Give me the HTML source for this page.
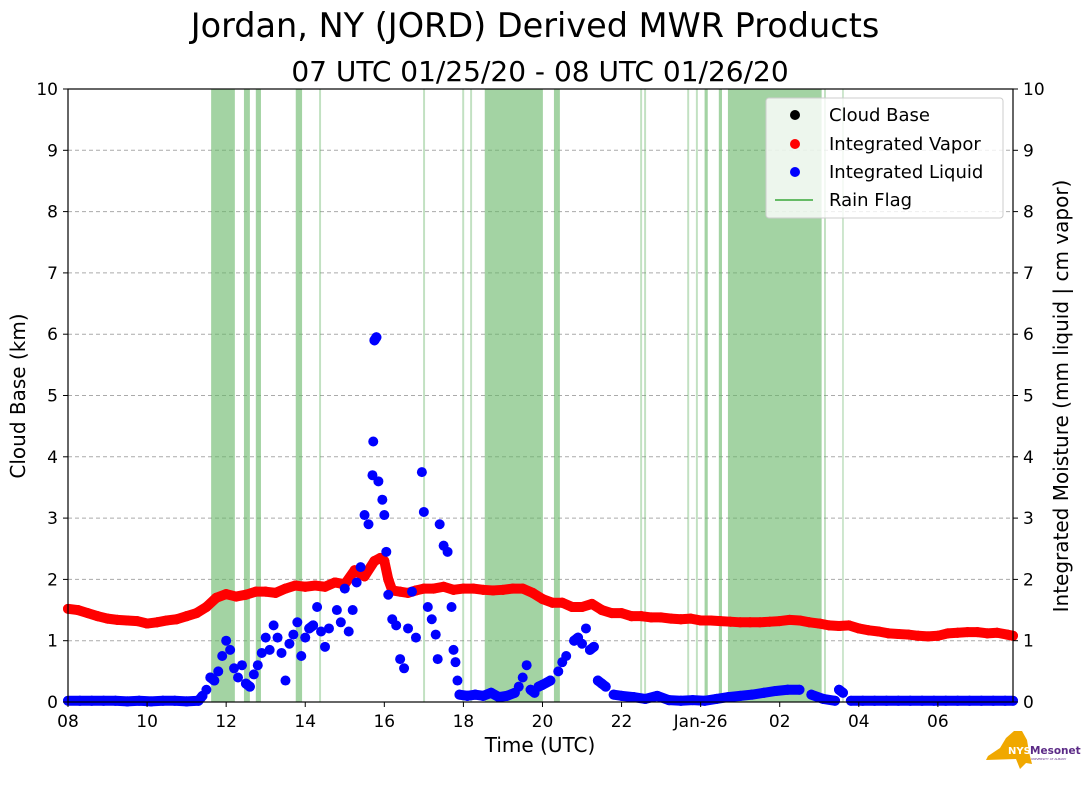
<!DOCTYPE html>
<html><head><meta charset="utf-8">
<style>
body{margin:0;background:#fff;width:1089px;height:804px;overflow:hidden;font-family:"DejaVu Sans","Liberation Sans",sans-serif;}
svg text{font-family:"DejaVu Sans","Liberation Sans",sans-serif;}
</style></head>
<body>
<svg id="chart" width="1089" height="804" xmlns="http://www.w3.org/2000/svg">
<text x="535" y="37" font-size="33.5" text-anchor="middle">Jordan, NY (JORD) Derived MWR Products</text>
<text x="540" y="81" font-size="28" text-anchor="middle">07 UTC 01/25/20 - 08 UTC 01/26/20</text>
<g id="grid"></g>
<g id="rain"></g>
<g id="series"></g>
<rect x="68" y="89" width="945" height="613" fill="none" stroke="#000" stroke-width="1.2"/>
<g id="axes"></g>
<text x="540" y="752" font-size="20" text-anchor="middle">Time (UTC)</text>
<text transform="translate(25,396) rotate(-90)" font-size="20" text-anchor="middle">Cloud Base (km)</text>
<text transform="translate(1068,396) rotate(-90)" font-size="20" text-anchor="middle">Integrated Moisture (mm liquid | cm vapor)</text>
<g>
<rect x="766" y="98" width="237" height="120" rx="3" fill="#fff" fill-opacity="0.8" stroke="#ccc"/>
<circle cx="795" cy="115" r="5" fill="#000"/><text x="829" y="121" font-size="18">Cloud Base</text>
<circle cx="795" cy="144" r="5" fill="#f00"/><text x="829" y="150" font-size="18">Integrated Vapor</text>
<circle cx="795" cy="172" r="5" fill="#00f"/><text x="829" y="178" font-size="18">Integrated Liquid</text>
<line x1="775" y1="200" x2="813" y2="200" stroke="#66bb66" stroke-width="2"/><text x="829" y="206" font-size="18">Rain Flag</text>
</g>
<g>
<path d="M988,756 L1000,748 L1006,738 L1014,731 L1022,731 L1027,740 L1029,752 L1032,764 L1026,763 L1020,769 L1016,759 L986,760 Z" fill="#f0a800"/>
<text x="1008" y="754" font-size="10" font-weight="bold" fill="#fff">NYS</text>
<text x="1030" y="754" font-size="10.5" font-weight="bold" fill="#5b2a86">Mesonet</text>
<text x="1031" y="760" font-size="3" fill="#5b2a86">UNIVERSITY AT ALBANY</text>
</g>
</svg>
<script>
const xTicks=[0,2,4,6,8,10,12,14,16,18,20,22];
const xTickLabels=["08","10","12","14","16","18","20","22","Jan-26","02","04","06"];
const yTicks=[0,1,2,3,4,5,6,7,8,9,10];
const rainBands=[[3.62,4.22],[4.45,4.6],[4.75,4.88],[5.76,5.92],[6.35,6.4],[8.98,9.03],[9.97,10.02],[10.17,10.22],[10.54,12.01],[12.29,12.44],[14.47,14.52],[14.57,14.62],[15.66,15.71],[15.88,15.93],[16.1,16.18],[16.46,16.54],[16.69,19.06],[19.12,19.17],[19.58,19.62]];
const vaporT=[0,0.25,0.5,0.75,1,1.25,1.5,1.75,2,2.25,2.5,2.75,3,3.25,3.5,3.75,4,4.25,4.5,4.75,5,5.25,5.5,5.75,6,6.25,6.5,6.75,7,7.25,7.5,7.75,7.9,8,8.1,8.2,8.4,8.6,8.8,9,9.25,9.5,9.75,10,10.25,10.5,10.75,11,11.25,11.5,11.75,12,12.25,12.5,12.75,13,13.25,13.5,13.75,14,14.25,14.5,14.75,15,15.25,15.5,15.75,16,16.25,16.5,16.75,17,17.25,17.5,17.75,18,18.25,18.5,18.75,19,19.25,19.5,19.75,20,20.25,20.5,20.75,21,21.25,21.5,21.75,22,22.25,22.5,22.75,23,23.25,23.5,23.75,23.9];
const vaporV=[1.52,1.5,1.45,1.4,1.36,1.34,1.33,1.32,1.28,1.3,1.33,1.35,1.4,1.45,1.55,1.7,1.76,1.72,1.75,1.8,1.8,1.78,1.85,1.9,1.88,1.9,1.88,1.95,1.92,2.15,2.05,2.3,2.35,2.3,2.0,1.82,1.8,1.78,1.82,1.85,1.85,1.88,1.83,1.85,1.85,1.83,1.82,1.83,1.85,1.85,1.78,1.68,1.62,1.62,1.55,1.55,1.6,1.5,1.45,1.45,1.4,1.4,1.38,1.38,1.36,1.35,1.36,1.33,1.33,1.32,1.31,1.3,1.3,1.3,1.31,1.32,1.34,1.33,1.3,1.28,1.25,1.24,1.25,1.2,1.17,1.15,1.12,1.11,1.1,1.08,1.07,1.08,1.12,1.13,1.14,1.14,1.12,1.13,1.1,1.08];
const liquidT=[0,0.3,0.6,0.9,1.2,1.5,1.8,2.1,2.4,2.7,3.0,3.3,3.4,3.5,3.6,3.7,3.8,3.9,4.0,4.1,4.2,4.3,4.4,4.5,4.6,4.7,4.8,4.9,5.0,5.1,5.2,5.3,5.4,5.5,5.6,5.7,5.8,5.9,6.0,6.1,6.2,6.3,6.4,6.5,6.6,6.8,6.9,7.0,7.1,7.2,7.3,7.4,7.5,7.6,7.7,7.72,7.75,7.8,7.85,7.95,8.0,8.05,8.1,8.2,8.3,8.4,8.5,8.6,8.7,8.8,8.95,9.0,9.1,9.2,9.3,9.35,9.4,9.5,9.6,9.7,9.75,9.8,9.85,9.9,10.1,10.3,10.5,10.7,10.9,11.1,11.3,11.4,11.5,11.6,11.7,11.8,11.9,12.0,12.2,12.4,12.5,12.6,12.8,12.9,13.0,13.1,13.2,13.3,13.4,13.5,13.6,13.8,14.0,14.3,14.6,14.9,15.2,15.5,15.8,16.1,16.4,16.7,17.0,17.3,17.6,17.9,18.2,18.5,18.8,19.1,19.4,19.5,19.6,19.8,20.1,20.4,20.7,21.0,21.3,21.6,21.9,22.2,22.5,22.8,23.1,23.4,23.7,23.9];
const liquidV=[0.02,0.02,0.02,0.02,0.02,0.01,0.02,0.01,0.02,0.02,0.01,0.02,0.1,0.2,0.4,0.35,0.5,0.75,1.0,0.85,0.55,0.4,0.6,0.3,0.25,0.45,0.6,0.8,1.05,0.85,1.25,1.05,0.8,0.35,0.95,1.1,1.3,0.75,1.05,1.2,1.25,1.55,1.15,0.9,1.2,1.5,1.3,1.85,1.15,1.5,1.95,2.2,3.05,2.9,3.7,4.25,5.9,5.95,3.6,3.3,3.05,2.45,1.75,1.35,1.25,0.7,0.55,1.2,1.8,1.05,3.75,3.1,1.55,1.35,1.1,0.7,2.9,2.55,2.45,1.55,0.85,0.65,0.35,0.12,0.1,0.12,0.1,0.15,0.08,0.1,0.15,0.25,0.4,0.6,0.2,0.15,0.25,0.28,0.35,0.5,0.65,0.75,1.0,1.05,0.95,1.2,0.85,0.9,0.35,0.3,0.25,0.12,0.1,0.08,0.05,0.1,0.03,0.02,0.03,0.02,0.05,0.08,0.1,0.12,0.15,0.18,0.2,0.2,0.12,0.05,0.02,0.2,0.15,0.02,0.02,0.02,0.02,0.02,0.02,0.02,0.02,0.02,0.02,0.02,0.02,0.02,0.02,0.02];

const NS="http://www.w3.org/2000/svg";
const X0=68,X1=1013,Y0=702,Y1=89,HMAX=23.9;
function xs(h){return X0+(X1-X0)*h/HMAX;}
function ys(v){return Y0-(Y0-Y1)*v/10;}
function mk(tag,attrs,parent){const e=document.createElementNS(NS,tag);for(const k in attrs)e.setAttribute(k,attrs[k]);parent.appendChild(e);return e;}
const grid=document.getElementById('grid'),rain=document.getElementById('rain'),series=document.getElementById('series'),axes=document.getElementById('axes');
yTicks.forEach(v=>{
  if(v>0&&v<10){const l=mk('line',{x1:X0,x2:X1,y1:ys(v),y2:ys(v),stroke:'#aaa','stroke-dasharray':'4,3','stroke-width':1},grid);
  
  }
  const t1=mk('text',{x:X0-10,y:ys(v)+6,'font-size':17,'text-anchor':'end'},axes);t1.textContent=v;
  
  
  const t2=mk('text',{x:X1+10,y:ys(v)+6,'font-size':17},axes);t2.textContent=v;
  
  
  mk('line',{x1:X0-5,x2:X0,y1:ys(v),y2:ys(v),stroke:'#000'},axes);
  mk('line',{x1:X1,x2:X1+5,y1:ys(v),y2:ys(v),stroke:'#000'},axes);
});
xTicks.forEach((h,i)=>{
  mk('line',{x1:xs(h),x2:xs(h),y1:Y0,y2:Y0+5,stroke:'#000'},axes);
  const t=mk('text',{x:xs(h),y:Y0+25,'font-size':17,'text-anchor':'middle'},axes);t.textContent=xTickLabels[i];
  
  
});
rainBands.forEach(b=>{
  const w=Math.max(1.5,xs(b[1])-xs(b[0]));
  const r=mk('rect',{x:xs(b[0]),y:Y1,width:w,height:Y0-Y1,fill:'#66b566','fill-opacity':w>3?0.6:0.4},rain);
  
  
});
function drawSeries(T,V,color,name,maxDiff){
  for(let i=1;i<T.length;i++){
    if(T[i]-T[i-1]<=0.35&&Math.abs(V[i]-V[i-1])<=maxDiff){
      mk('line',{x1:xs(T[i-1]),y1:ys(V[i-1]),x2:xs(T[i]),y2:ys(V[i]),stroke:color,'stroke-width':10,'stroke-linecap':'round'},series);
    }
  }
  T.forEach((t,i)=>{const c=mk('circle',{cx:xs(t),cy:ys(V[i]),r:5,fill:color},series);
    
    });
}
drawSeries(vaporT,vaporV,'#ff0000','vapor-point',0.3);
drawSeries(liquidT,liquidV,'#0000ff','liquid-point',0.08);
</script>
</body></html>
